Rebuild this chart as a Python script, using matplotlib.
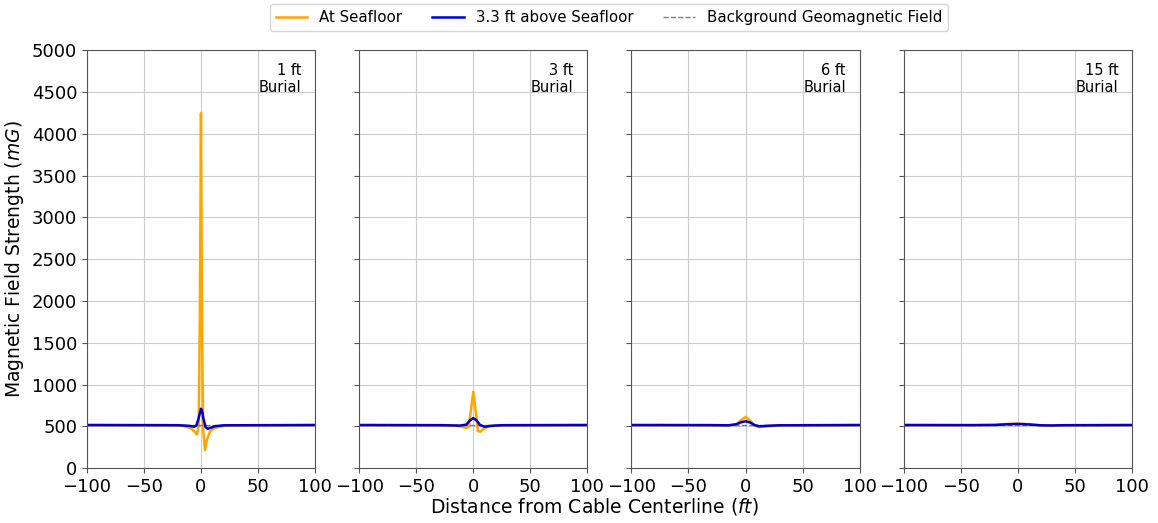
#magnetic field strength profiles across a buried cable for four burial depths
import numpy as np
import matplotlib as mpl
import matplotlib.pyplot as plt

background_field = 515

burial_labels = ['1 ft\nBurial', '3 ft\nBurial', '6 ft\nBurial', '15 ft\nBurial']

# at seafloor, per burial depth
seafloor_x = [
    [-100, -30, -15, -8, -5, -3.5, -2, -1, 0, 1, 2, 3.5, 5, 8, 12, 20, 30, 100],
    [-100, -30, -15, -10, -7, -4, -2, 0, 2, 4, 6, 9, 14, 20, 30, 100],
    [-100, -30, -15, -8, -4, 0, 4, 8, 12, 18, 30, 100],
    [-100, -40, -20, -10, 0, 10, 20, 30, 40, 100],
]
seafloor_y = [
    [515, 514, 505, 470, 430, 400, 520, 1800, 4250, 1500, 450, 215, 330, 440, 480, 505, 512, 515],
    [515, 514, 508, 495, 480, 490, 700, 915, 700, 445, 435, 470, 500, 510, 514, 515],
    [515, 514, 510, 520, 575, 612, 570, 505, 490, 500, 512, 515],
    [515, 514, 517, 527, 533, 525, 510, 508, 512, 515],
]

# 3.3 ft above seafloor, per burial depth
above_x = [
    [-100, -20, -10, -6, -4, -2, 0, 1, 2, 4, 6, 8, 12, 20, 100],
    [-100, -25, -12, -6, -3, 0, 3, 6, 10, 15, 25, 100],
    [-100, -30, -15, -8, -4, 0, 4, 8, 12, 18, 30, 100],
    [-100, -40, -20, -10, 0, 10, 20, 30, 40, 100],
]
above_y = [
    [515, 513, 505, 495, 510, 600, 710, 690, 600, 490, 470, 480, 500, 512, 515],
    [515, 513, 508, 520, 570, 598, 570, 515, 495, 505, 513, 515],
    [515, 514, 512, 525, 548, 560, 545, 515, 500, 505, 512, 515],
    [515, 514, 516, 524, 528, 522, 512, 510, 513, 515],
]

mpl.rcParams['font.family'] = 'DejaVu Sans'
mpl.rcParams['axes.edgecolor'] = '#555555'

fig, axes = plt.subplots(1, 4, sharey=True, figsize=(11.58, 5.23), dpi=100)
fig.subplots_adjust(left=0.075, right=0.9775, bottom=0.105, top=0.904, wspace=0.193)

for i, ax in enumerate(axes):
    l1, = ax.plot(seafloor_x[i], seafloor_y[i], color='orange', lw=1.8, label='At Seafloor')
    l3, = ax.plot([-100, 100], [background_field, background_field], color='gray', ls='--', lw=1,
                  label='Background Geomagnetic Field')
    l2, = ax.plot(above_x[i], above_y[i], color='mediumblue', lw=1.8, label='3.3 ft above Seafloor')
    ax.set_xlim(-100, 100)
    ax.set_ylim(0, 5000)
    ax.set_xticks([-100, -50, 0, 50, 100])
    ax.set_yticks(np.arange(0, 5001, 500))
    ax.grid(True, color='#cccccc', lw=0.8)
    ax.tick_params(labelsize=13, color='#555555')
    ax.text(0.94, 0.97, burial_labels[i], transform=ax.transAxes, ha='right', va='top',
            multialignment='right', fontsize=10.5)

axes[0].set_ylabel('Magnetic Field Strength ($mG$)', fontsize=13.5)
fig.text(0.513, 0.012, 'Distance from Cable Centerline ($ft$)', ha='center', va='bottom', fontsize=13.5)
fig.legend(handles=[l1, l2, l3], loc='upper center', bbox_to_anchor=(0.526, 1.006), ncol=3,
           fontsize=10.8, frameon=True, handlelength=2.1, columnspacing=2)

plt.savefig('out.png', dpi=100)
